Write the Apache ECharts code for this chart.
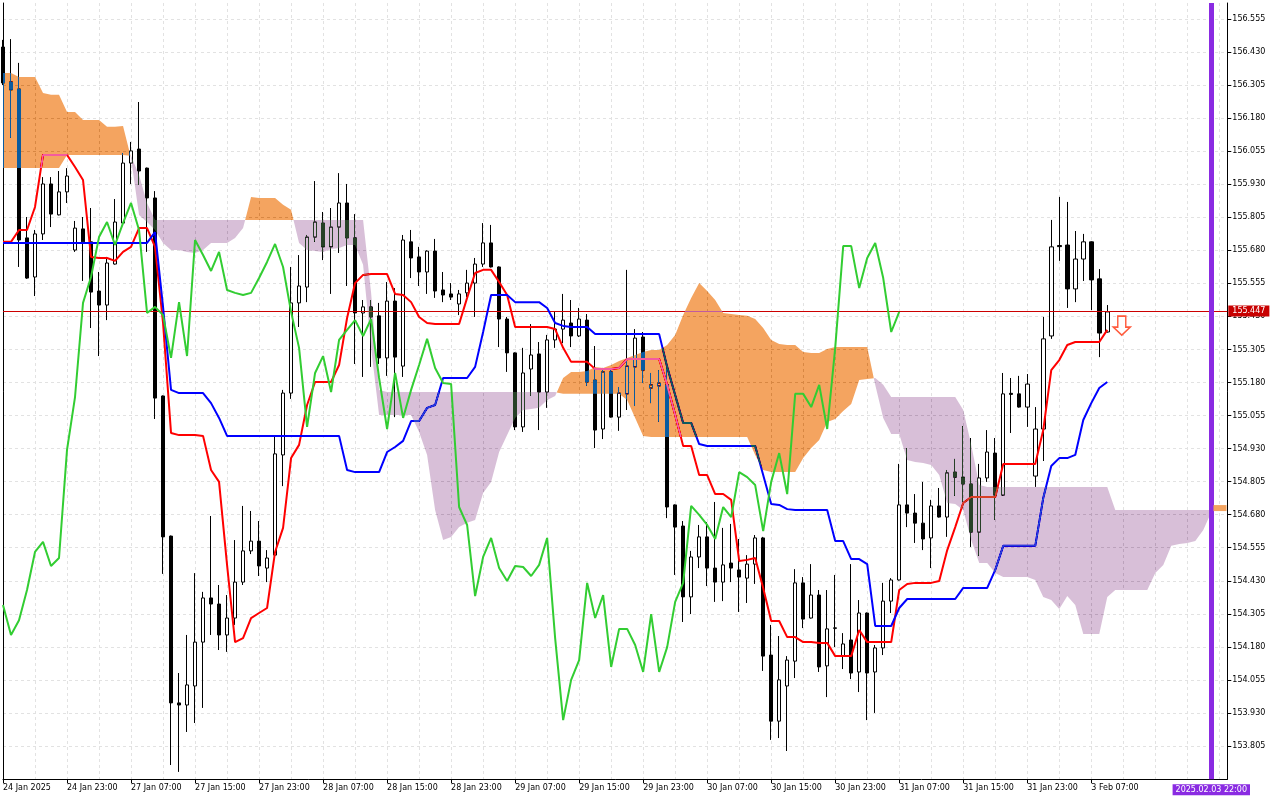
<!DOCTYPE html>
<html><head><meta charset="utf-8">
<script src="https://cdn.jsdelivr.net/npm/echarts@6/dist/echarts.min.js"></script>
<style>html,body{margin:0;padding:0;background:#fff}#c{width:1280px;height:800px}</style>
</head><body><div id="c"></div><script>
const xTickLabels = ['24 Jan 2025','24 Jan 23:00','27 Jan 07:00','27 Jan 15:00','27 Jan 23:00','28 Jan 07:00','28 Jan 15:00','28 Jan 23:00','29 Jan 07:00','29 Jan 15:00','29 Jan 23:00','30 Jan 07:00','30 Jan 15:00','30 Jan 23:00','31 Jan 07:00','31 Jan 15:00','31 Jan 23:00','3 Feb 07:00'];
const barCount = 154;
// [open, high, low, close]
const ohlc = [
[156.449,156.476,156.305,156.313],[156.317,156.479,156.105,156.287],[156.290,156.389,155.617,155.719],[155.727,155.806,155.572,155.575],[155.579,155.757,155.507,155.742],
[155.742,155.957,155.719,155.931],[155.931,155.957,155.768,155.817],[155.814,155.980,155.812,155.901],[155.901,155.991,155.859,155.961],[155.681,155.791,155.674,155.764],
[155.761,155.806,155.564,155.712],[155.712,155.840,155.386,155.522],[155.526,155.598,155.280,155.473],[155.473,155.655,155.416,155.632],[155.628,155.874,155.626,155.787],
[155.783,156.048,155.772,156.010],[156.010,156.090,155.931,156.056],[156.063,156.241,155.927,155.980],[155.991,155.993,155.674,155.878],[155.878,155.904,155.042,155.121],
[155.129,155.131,154.456,154.596],[154.599,154.601,153.733,153.968],[153.968,154.081,153.707,153.960],[153.960,154.225,153.858,154.036],[154.032,154.459,153.892,154.198],
[154.198,154.388,153.949,154.365],[154.365,154.675,154.225,154.342],[154.342,154.414,154.168,154.225],[154.225,154.376,154.161,154.289],[154.289,154.584,154.263,154.425],
[154.425,154.713,154.414,154.543],[154.543,154.694,154.531,154.580],[154.580,154.656,154.448,154.486],[154.478,154.546,154.425,154.516],[154.527,154.974,154.512,154.910],
[154.906,155.152,154.788,155.140],[155.140,155.617,155.118,155.481],[155.481,155.662,155.390,155.545],[155.541,155.738,155.484,155.730],[155.730,155.942,155.712,155.787],
[155.783,155.825,155.643,155.693],[155.693,155.840,155.515,155.768],[155.768,155.972,155.670,155.859],[155.859,155.931,155.545,155.727],[155.727,155.817,155.250,155.443],
[155.443,155.492,155.201,155.466],[155.466,155.492,155.239,155.428],[155.432,155.481,155.250,155.273],[155.273,155.560,155.205,155.488],[155.488,155.537,155.049,155.276],
[155.242,155.738,155.201,155.719],[155.712,155.757,155.575,155.651],[155.655,155.693,155.545,155.598],[155.598,155.680,155.515,155.677],[155.677,155.723,155.500,155.526],
[155.530,155.598,155.484,155.511],[155.515,155.556,155.492,155.503],[155.477,155.530,155.435,155.515],[155.519,155.606,155.503,155.556],[155.556,155.651,155.428,155.628],
[155.628,155.783,155.617,155.708],[155.708,155.776,155.615,155.617],[155.617,155.619,155.314,155.420],[155.420,155.428,155.220,155.292],[155.292,155.294,155.000,155.012],
[155.012,155.311,154.993,155.216],[155.231,155.401,155.129,155.284],[155.288,155.333,155.000,155.144],[155.144,155.360,155.084,155.341],[155.341,155.447,155.311,155.382],
[155.382,155.515,155.329,155.416],[155.405,155.492,155.314,155.356],[155.356,155.462,155.352,155.420],[155.416,155.439,155.167,155.182],[155.189,155.318,154.932,155.000],
[155.004,155.235,154.966,155.220],[155.220,155.227,155.047,155.049],[155.049,155.163,154.997,155.140],[155.137,155.606,155.076,155.242],[155.239,155.382,155.091,155.348],
[155.352,155.371,155.178,155.227],[155.159,155.216,155.102,155.171],[155.167,155.227,155.031,155.178],[155.171,155.235,154.667,154.709],[154.717,154.719,154.452,154.633],
[154.637,154.656,154.274,154.369],[154.369,154.543,154.304,154.520],[154.520,154.641,154.478,154.596],[154.596,154.652,154.410,154.478],[154.478,154.728,154.350,154.425],
[154.425,154.630,154.353,154.490],[154.497,154.645,154.425,154.478],[154.471,154.588,154.312,154.444],[154.440,154.527,154.346,154.493],[154.493,154.603,154.418,154.592],
[154.592,154.596,154.089,154.145],[154.149,154.263,153.828,153.899],[153.899,154.221,153.835,154.055],[154.032,154.145,153.786,154.130],[154.126,154.474,154.062,154.422],
[154.422,154.444,154.251,154.285],[154.289,154.493,154.287,154.376],[154.376,154.395,154.085,154.104],[154.108,154.395,153.990,154.248],[154.250,154.452,154.179,154.252],
[154.145,154.232,154.096,154.191],[154.206,154.493,154.058,154.081],[154.085,154.357,154.009,154.308],[154.308,154.310,153.903,154.081],[154.085,154.187,153.930,154.176],
[154.176,154.422,154.149,154.353],[154.353,154.440,154.308,154.433],[154.433,154.872,154.431,154.717],[154.717,154.932,154.633,154.686],[154.686,154.758,154.573,154.648],
[154.648,154.804,154.546,154.588],[154.592,154.736,154.478,154.713],[154.713,154.781,154.669,154.671],[154.671,154.849,154.596,154.838],[154.841,154.891,154.751,154.822],
[154.822,155.015,154.728,154.796],[154.796,154.970,154.558,154.614],[154.614,154.872,154.524,154.819],[154.819,155.000,154.804,154.917],[154.913,154.970,154.660,154.754],
[154.754,155.216,154.752,155.137],[155.139,155.197,154.989,155.135],[155.137,155.205,155.085,155.087],[155.087,155.212,155.012,155.174],[154.826,155.087,154.785,155.004],
[155.004,155.428,154.883,155.345],[155.356,155.795,155.345,155.693],[155.698,155.882,155.640,155.694],[155.700,155.863,155.462,155.534],[155.534,155.753,155.484,155.647],
[155.647,155.742,155.564,155.712],[155.712,155.714,155.454,155.568],[155.572,155.609,155.276,155.367],[155.371,155.473,155.369,155.447]
];
const tenkan = [
155.712,155.712,155.757,155.757,155.844,156.041,156.041,156.041,156.041,155.995,
155.946,155.655,155.651,155.651,155.640,155.674,155.693,155.764,155.764,155.693,
155.405,154.989,154.981,154.981,154.981,154.978,154.849,154.804,154.490,154.198,
154.213,154.289,154.308,154.327,154.539,154.630,154.894,154.944,155.095,155.182,
155.182,155.182,155.246,155.424,155.556,155.587,155.590,155.590,155.590,155.515,
155.511,155.484,155.428,155.405,155.401,155.401,155.401,155.401,155.500,155.594,
155.606,155.606,155.560,155.511,155.390,155.390,155.390,155.390,155.390,155.382,
155.311,155.258,155.258,155.258,155.231,155.231,155.231,155.235,155.269,155.269,
155.269,155.269,155.269,155.171,155.057,154.940,154.940,154.830,154.830,154.758,
154.758,154.736,154.505,154.509,154.516,154.403,154.278,154.278,154.217,154.217,
154.198,154.198,154.195,154.195,154.145,154.145,154.145,154.244,154.198,154.198,
154.198,154.198,154.395,154.418,154.422,154.422,154.422,154.429,154.546,154.633,
154.724,154.747,154.747,154.747,154.747,154.872,154.872,154.872,154.872,154.872,
155.000,155.227,155.265,155.322,155.333,155.333,155.333,155.333,155.379
];
const kijun = [
155.708,155.708,155.708,155.708,155.708,155.708,155.708,155.708,155.708,155.708,
155.708,155.708,155.708,155.708,155.708,155.708,155.708,155.708,155.708,155.749,
155.466,155.152,155.140,155.140,155.140,155.140,155.102,155.046,154.978,154.978,
154.978,154.978,154.978,154.978,154.978,154.978,154.978,154.978,154.978,154.978,
154.978,154.978,154.978,154.849,154.841,154.841,154.841,154.841,154.917,154.936,
154.959,155.034,155.034,155.084,155.095,155.197,155.197,155.197,155.197,155.239,
155.371,155.511,155.511,155.511,155.484,155.484,155.484,155.484,155.462,155.405,
155.394,155.390,155.390,155.390,155.363,155.363,155.363,155.363,155.363,155.363,
155.363,155.363,155.363,155.239,155.133,155.027,155.027,154.947,154.940,154.940,
154.940,154.940,154.940,154.940,154.940,154.830,154.720,154.717,154.701,154.698,
154.698,154.698,154.698,154.698,154.580,154.580,154.512,154.512,154.493,154.259,
154.259,154.259,154.327,154.361,154.361,154.361,154.361,154.361,154.361,154.361,
154.403,154.403,154.403,154.403,154.471,154.562,154.562,154.562,154.562,154.562,
154.743,154.864,154.894,154.894,154.906,155.038,155.102,155.159,155.182
];
const chikou = [
154.338,154.225,154.281,154.395,154.539,154.577,154.486,154.516,154.925,155.125,
155.481,155.579,155.730,155.787,155.700,155.783,155.859,155.757,155.443,155.466,
155.435,155.273,155.484,155.280,155.719,155.662,155.602,155.674,155.530,155.519,
155.511,155.519,155.575,155.636,155.704,155.617,155.447,155.311,155.012,155.216,
155.280,155.144,155.341,155.379,155.416,155.356,155.420,155.197,155.004,155.216,
155.046,155.152,155.246,155.345,155.235,155.178,155.174,154.709,154.641,154.372,
154.520,154.592,154.478,154.429,154.486,154.482,154.448,154.490,154.592,154.213,
153.903,154.055,154.130,154.422,154.289,154.376,154.104,154.248,154.248,154.187,
154.085,154.304,154.085,154.179,154.350,154.422,154.713,154.679,154.641,154.588,
154.709,154.671,154.841,154.822,154.792,154.618,154.804,154.913,154.758,155.137,
155.137,155.087,155.171,155.004,155.311,155.696,155.696,155.537,155.651,155.708,
155.575,155.371,155.447
];
const spanA = [
156.351,156.351,156.336,156.336,156.336,156.275,156.268,156.268,156.203,156.203,
156.173,156.173,156.173,156.147,156.147,156.150,156.029,155.814,155.787,155.757,
155.708,155.681,155.681,155.674,155.670,155.681,155.708,155.708,155.708,155.727,
155.764,155.882,155.878,155.878,155.878,155.852,155.833,155.708,155.681,155.677,
155.674,155.685,155.689,155.700,155.700,155.625,155.311,155.057,155.057,155.057,
155.057,155.057,154.993,154.906,154.698,154.584,154.596,154.633,154.649,154.660,
154.762,154.804,154.917,154.981,155.046,155.076,155.080,155.084,155.114,155.129,
155.197,155.220,155.220,155.223,155.239,155.235,155.246,155.261,155.273,155.284,
155.295,155.303,155.303,155.322,155.360,155.435,155.500,155.556,155.526,155.492,
155.443,155.439,155.435,155.432,155.420,155.386,155.341,155.326,155.322,155.322,
155.295,155.292,155.292,155.307,155.314,155.314,155.314,155.314,155.314,155.171,
155.046,154.985,154.985,154.887,154.879,154.875,154.868,154.830,154.724,154.720,
154.698,154.584,154.497,154.497,154.459,154.444,154.444,154.444,154.444,154.433,
154.369,154.357,154.323,154.372,154.338,154.229,154.229,154.229,154.369,154.395,
154.395,154.395,154.395,154.395,154.459,154.490,154.562,154.569,154.573,154.580,
154.622,154.690
];
const spanB = [
155.991,155.991,155.991,155.991,155.991,155.991,155.991,155.991,156.041,156.041,
156.041,156.041,156.041,156.041,156.041,156.041,156.037,155.965,155.859,155.795,
155.795,155.795,155.795,155.795,155.795,155.795,155.795,155.795,155.795,155.795,
155.795,155.795,155.795,155.795,155.795,155.795,155.795,155.795,155.795,155.795,
155.795,155.795,155.795,155.795,155.795,155.795,155.519,155.152,155.144,155.144,
155.144,155.144,155.144,155.144,155.144,155.144,155.144,155.144,155.144,155.144,
155.144,155.144,155.144,155.144,155.144,155.144,155.144,155.144,155.144,155.144,
155.137,155.137,155.137,155.137,155.137,155.137,155.137,155.137,155.114,155.046,
154.978,154.974,154.974,154.974,154.974,154.974,154.974,154.974,154.974,154.974,
154.974,154.974,154.974,154.974,154.906,154.849,154.841,154.841,154.841,154.841,
154.894,154.932,154.962,155.031,155.042,155.072,155.099,155.189,155.193,155.197,
155.171,155.125,155.125,155.125,155.125,155.125,155.125,155.125,155.125,155.125,
155.076,154.944,154.792,154.785,154.785,154.785,154.785,154.785,154.785,154.785,
154.785,154.785,154.785,154.785,154.785,154.785,154.785,154.785,154.785,154.698,
154.698,154.698,154.698,154.698,154.698,154.698,154.698,154.698,154.698,154.698,
154.698,154.698
];
const yTickValues = [153.805,153.930,154.055,154.180,154.305,154.430,154.555,154.680,154.805,154.930,155.055,155.180,155.305,155.430,155.555,155.680,155.805,155.930,156.055,156.180,156.305,156.430,156.555];
const priceValue = 155.447;
const cursorIndex = 151;
const cursorLabel = '2025.02.03 22:00';
const arrowPoint = [140, 155.395];
const spanMarkerValue = 154.705;
const yMin = 153.679, yMax = 156.6155;

const FONT = 'DejaVu Sans';
const BULL_XOR = '#0b5b9f';   // difference-blended over white -> sandy brown
const BEAR_XOR = '#274027';   // difference-blended over white -> thistle
const chart = echarts.init(document.getElementById('c'));
const categories = Array.from({length: barCount}, (_, i) => String(i));

function cloudRender(params, api) {
  const n = Math.min(spanA.length, spanB.length);
  const pa = [], pb = [], d = [];
  for (let i = 0; i < n; i++) {
    pa.push(api.coord([i, spanA[i]]));
    pb.push(api.coord([i, spanB[i]]));
    d.push(spanA[i] - spanB[i]);
  }
  const sgn = v => v >= 0 ? 1 : -1;
  const regions = [];
  let cur = {s: sgn(d[0]), a: [pa[0]], b: [pb[0]]};
  for (let i = 0; i < n - 1; i++) {
    const s1 = sgn(d[i + 1]);
    if (s1 !== cur.s) {
      const t = d[i] / (d[i] - d[i + 1]);
      const xc = pa[i][0] + t * (pa[i + 1][0] - pa[i][0]);
      const yc = pa[i][1] + t * (pa[i + 1][1] - pa[i][1]);
      cur.a.push([xc, yc]); cur.b.push([xc, yc]);
      regions.push(cur);
      cur = {s: s1, a: [[xc, yc]], b: [[xc, yc]]};
    }
    cur.a.push(pa[i + 1]); cur.b.push(pb[i + 1]);
  }
  regions.push(cur);
  return {
    type: 'group',
    children: regions.map(r => ({
      type: 'polygon',
      shape: {points: r.a.concat(r.b.slice().reverse())},
      style: {fill: r.s > 0 ? BULL_XOR : BEAR_XOR, stroke: null, blend: 'difference'}
    }))
  };
}

const dashed = {show: true, lineStyle: {color: '#e2e2e2', type: [3, 3], width: 1}};

chart.setOption({
  animation: false,
  backgroundColor: '#ffffff',
  textStyle: {fontFamily: FONT},
  graphic: [{id: 'bg', type: 'rect', silent: true, z: -100, zlevel: 0,
    shape: {x: 0, y: 0, width: 1280, height: 800}, style: {fill: '#ffffff'}}],
  grid: {left: 2.3, right: 52.7, top: 3, bottom: 20.7},
  xAxis: {
    type: 'category', data: categories, boundaryGap: false,
    axisLine: {show: true, lineStyle: {color: '#000', width: 1}},
    axisTick: {show: true, length: 4, lineStyle: {color: '#000'},
      interval: (idx) => idx % 8 === 0 && idx / 8 < xTickLabels.length},
    axisLabel: {show: true, color: '#000', fontSize: 8, fontFamily: FONT, align: 'left', margin: 5,
      interval: (idx) => idx % 8 === 0 && idx / 8 < xTickLabels.length,
      formatter: (v, idx) => xTickLabels[idx / 8] || ''},
    splitLine: Object.assign({}, dashed, {interval: (idx) => idx % 4 === 0 && idx > 0})
  },
  yAxis: [{
    type: 'value', position: 'right', min: yMin, max: yMax,
    axisLine: {show: true, lineStyle: {color: '#000', width: 1}},
    axisTick: {show: true, length: 4, lineStyle: {color: '#000'}, customValues: yTickValues},
    axisLabel: {show: true, color: '#000', fontSize: 8, fontFamily: FONT, margin: 5,
      customValues: yTickValues,
      formatter: v => Number(v).toFixed(3)},
    splitLine: dashed
  }, {
    type: 'value', position: 'left', min: yMin, max: yMax,
    axisLine: {show: true, lineStyle: {color: '#000', width: 1}},
    axisTick: {show: false}, axisLabel: {show: false}, splitLine: {show: false}
  }],
  series: [
    {
      type: 'candlestick', z: 2, silent: true, barWidth: 4,
      data: ohlc.map(r => [r[0], r[3], r[2], r[1]]),
      itemStyle: {color: '#ffffff', color0: '#000000', borderColor: '#000000', borderColor0: '#000000', borderWidth: 1}
    },
    {type: 'line', data: tenkan, z: 3, symbol: 'none', silent: true, clip: false,
      lineStyle: {color: '#ff0000', width: 2},
      markLine: {
        z: 3, silent: true, symbol: ['none', 'none'], animation: false,
        lineStyle: {color: '#cc0000', width: 1, type: 'solid'},
        label: {show: true, position: 'end', distance: 1, formatter: priceValue.toFixed(3),
          color: '#fff', backgroundColor: '#c80000', padding: [2, 4, 1, 4], fontSize: 8, fontFamily: FONT},
        data: [{yAxis: priceValue}]
      }
    },
    {type: 'line', data: kijun, z: 3, symbol: 'none', silent: true, lineStyle: {color: '#0000ff', width: 2}},
    {type: 'custom', z: 4, silent: true, renderItem: cloudRender, data: [[0, spanB[0]]], clip: true},
    {
      type: 'line', data: chikou, z: 5, symbol: 'none', silent: true, clip: false,
      lineStyle: {color: '#32cd32', width: 2},
      markLine: {
        z: 10, silent: true, symbol: ['none', 'none'], animation: false,
        lineStyle: {color: '#8a2be2', width: 5, type: 'solid'},
        label: {show: true, position: 'start', distance: 5, formatter: cursorLabel,
          color: '#fff', backgroundColor: '#8a2be2', padding: [2, 3, 1, 3], fontSize: 8, fontFamily: FONT},
        data: [{xAxis: cursorIndex}]
      },
      markPoint: {
        z: 10, silent: true, animation: false,
        data: [{
          coord: arrowPoint,
          symbol: 'path://M4.5,0 L12.5,0 L12.5,11 L17,11 L8.5,19 L0,11 L4.5,11 Z',
          symbolSize: [17, 19], symbolOffset: [-1.5, 0],
          itemStyle: {color: '#ffffff', borderColor: '#ff5a3c', borderWidth: 1.5},
          label: {show: false}
        }]
      }
    }
  ]
});

const my = chart.convertToPixel({yAxisIndex: 0}, spanMarkerValue);
chart.setOption({graphic: [{id: 'spanMarker', type: 'rect', silent: true, z: 20,
  shape: {x: 1213.5, y: my - 3, width: 13, height: 6}, style: {fill: '#f4a460'}}]});

// make sure the cloud polygons are composited with the 'difference' operator (MT4-style XOR look)
function applyBlend() {
  const zr = chart.getZr();
  const list = zr.storage.getDisplayList(true);
  list.forEach(el => {
    const f = el.style && typeof el.style.fill === 'string' ? el.style.fill.toLowerCase() : '';
    if (f === BULL_XOR || f === BEAR_XOR) {
      el.style.blend = 'difference';
      if (el.markRedraw) el.markRedraw();
    }
  });
  zr.refreshImmediately();
}
applyBlend();
</script></body></html>
